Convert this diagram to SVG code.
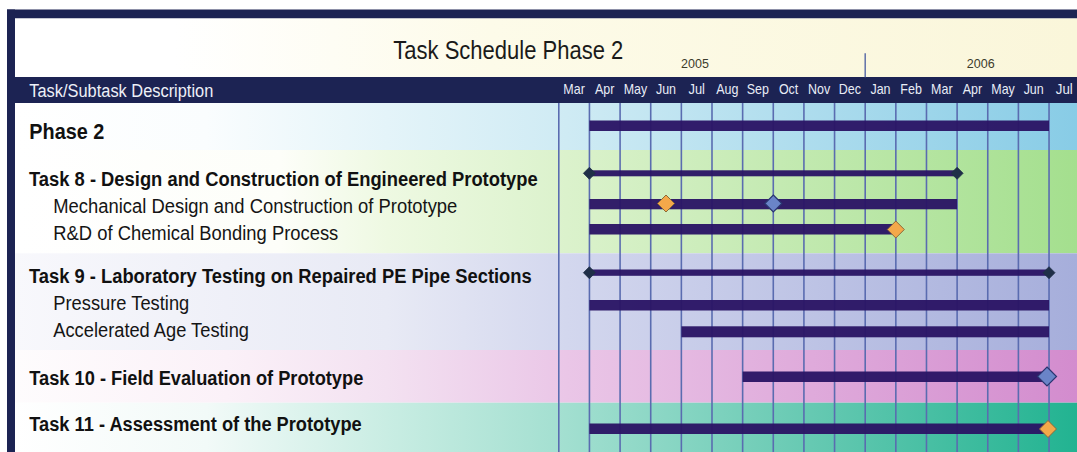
<svg xmlns="http://www.w3.org/2000/svg" width="1077" height="452" viewBox="0 0 1077 452">
<defs>
<linearGradient id="gTitle" gradientUnits="userSpaceOnUse" x1="15" y1="0" x2="1077" y2="0">
<stop offset="0" stop-color="#ffffff"/><stop offset="0.15" stop-color="#ffffff"/><stop offset="0.45" stop-color="#fdfbe9"/><stop offset="1" stop-color="#faf6da"/>
</linearGradient>
<linearGradient id="gP2" gradientUnits="userSpaceOnUse" x1="15" y1="0" x2="1077" y2="0">
<stop offset="0" stop-color="#ffffff"/><stop offset="0.18" stop-color="#fafdfe"/><stop offset="0.35" stop-color="#e4f4f9"/><stop offset="0.52" stop-color="#cfebf4"/><stop offset="1" stop-color="#88cce6"/>
</linearGradient>
<linearGradient id="gT8" gradientUnits="userSpaceOnUse" x1="15" y1="0" x2="1077" y2="0">
<stop offset="0" stop-color="#ffffff"/><stop offset="0.25" stop-color="#fdfef9"/><stop offset="0.35" stop-color="#eef9e2"/><stop offset="0.52" stop-color="#dbf2cc"/><stop offset="1" stop-color="#a4df8e"/>
</linearGradient>
<linearGradient id="gT9" gradientUnits="userSpaceOnUse" x1="15" y1="0" x2="1077" y2="0">
<stop offset="0" stop-color="#f8f8fc"/><stop offset="0.35" stop-color="#e8eaf5"/><stop offset="0.52" stop-color="#d3d7ee"/><stop offset="1" stop-color="#a6aedb"/>
</linearGradient>
<linearGradient id="gT10" gradientUnits="userSpaceOnUse" x1="15" y1="0" x2="1077" y2="0">
<stop offset="0" stop-color="#fefcfd"/><stop offset="0.2" stop-color="#fbf1f8"/><stop offset="0.35" stop-color="#f3e1f1"/><stop offset="0.52" stop-color="#eac6e7"/><stop offset="1" stop-color="#d38cce"/>
</linearGradient>
<linearGradient id="gT11" gradientUnits="userSpaceOnUse" x1="15" y1="0" x2="1077" y2="0">
<stop offset="0" stop-color="#ffffff"/><stop offset="0.18" stop-color="#f2faf8"/><stop offset="0.35" stop-color="#c9ede3"/><stop offset="0.52" stop-color="#a2dfd0"/><stop offset="0.75" stop-color="#66c9b2"/><stop offset="1" stop-color="#22b391"/>
</linearGradient>
</defs>
<style>
.frame{fill:#1c2353}
.title{font-family:"Liberation Sans",Arial,sans-serif;font-size:25px;fill:#1a1a1a}
.hdr{font-family:"Liberation Sans",Arial,sans-serif;font-size:18px;fill:#eef0f8}
.mon{font-family:"Liberation Sans",Arial,sans-serif;font-size:15px;fill:#e8ecf6;text-anchor:middle}
.year{font-family:"Liberation Sans",Arial,sans-serif;font-size:12.5px;fill:#3c3c2c;text-anchor:middle}
.grid line{stroke:#5a6cb0;stroke-width:1.6}
.task{font-family:"Liberation Sans",Arial,sans-serif;font-size:20px;font-weight:bold;fill:#111111}
.phase{font-family:"Liberation Sans",Arial,sans-serif;font-size:21.5px;font-weight:bold;fill:#111111}
.sub{font-family:"Liberation Sans",Arial,sans-serif;font-size:19.5px;fill:#151515}
.bar{fill:#2b1565;opacity:0.96}
.dk{fill:#1f2f48;stroke:#1f2f48;stroke-width:0.8}
.or{fill:#f4a84a;stroke:#8a6a3a;stroke-width:1}
.bl{fill:#6a84c8;stroke:#2a3570;stroke-width:1.2}
</style>
<rect x="0" y="0" width="1077" height="452" fill="#ffffff"/>
<rect class="frame" x="7" y="9.5" width="1070" height="9"/>
<rect class="frame" x="7" y="9.5" width="8" height="442.5"/>
<rect x="15" y="18.5" width="1062" height="58.5" fill="url(#gTitle)"/>
<rect class="frame" x="7" y="77" width="1070" height="26"/>
<text class="title" x="393.3" y="59.3" textLength="230" lengthAdjust="spacingAndGlyphs">Task Schedule Phase 2</text>
<text class="year" x="695" y="68.3">2005</text>
<text class="year" x="980.7" y="68.3">2006</text>
<line x1="865.2" y1="53.3" x2="865.2" y2="77.3" stroke="#6070a8" stroke-width="1.5"/>
<text class="hdr" x="29.3" y="97" textLength="184" lengthAdjust="spacingAndGlyphs">Task/Subtask Description</text>
<g id="months">
<text class="mon" x="574.1" y="93.5" textLength="21.5" lengthAdjust="spacingAndGlyphs">Mar</text>
<text class="mon" x="604.7" y="93.5" textLength="19.4" lengthAdjust="spacingAndGlyphs">Apr</text>
<text class="mon" x="635.4" y="93.5" textLength="23.5" lengthAdjust="spacingAndGlyphs">May</text>
<text class="mon" x="666.0" y="93.5" textLength="20.1" lengthAdjust="spacingAndGlyphs">Jun</text>
<text class="mon" x="696.7" y="93.5" textLength="16.5" lengthAdjust="spacingAndGlyphs">Jul</text>
<text class="mon" x="727.3" y="93.5" textLength="22.2" lengthAdjust="spacingAndGlyphs">Aug</text>
<text class="mon" x="757.9" y="93.5" textLength="22.2" lengthAdjust="spacingAndGlyphs">Sep</text>
<text class="mon" x="788.6" y="93.5" textLength="19.4" lengthAdjust="spacingAndGlyphs">Oct</text>
<text class="mon" x="819.2" y="93.5" textLength="22.2" lengthAdjust="spacingAndGlyphs">Nov</text>
<text class="mon" x="849.9" y="93.5" textLength="22.2" lengthAdjust="spacingAndGlyphs">Dec</text>
<text class="mon" x="880.5" y="93.5" textLength="20.1" lengthAdjust="spacingAndGlyphs">Jan</text>
<text class="mon" x="911.1" y="93.5" textLength="21.5" lengthAdjust="spacingAndGlyphs">Feb</text>
<text class="mon" x="941.8" y="93.5" textLength="21.5" lengthAdjust="spacingAndGlyphs">Mar</text>
<text class="mon" x="972.4" y="93.5" textLength="19.4" lengthAdjust="spacingAndGlyphs">Apr</text>
<text class="mon" x="1003.1" y="93.5" textLength="23.5" lengthAdjust="spacingAndGlyphs">May</text>
<text class="mon" x="1033.7" y="93.5" textLength="20.1" lengthAdjust="spacingAndGlyphs">Jun</text>
<text class="mon" x="1064.3" y="93.5" textLength="17" lengthAdjust="spacingAndGlyphs">Jul</text>
</g>
<g id="backgrounds">
<rect x="15" y="103" width="1062" height="47" fill="url(#gP2)"/>
<rect x="15" y="150" width="1062" height="103.3" fill="url(#gT8)"/>
<rect x="15" y="253.3" width="1062" height="96.7" fill="url(#gT9)"/>
<rect x="15" y="350" width="1062" height="52.7" fill="url(#gT10)"/>
<rect x="15" y="402.7" width="1062" height="49.3" fill="url(#gT11)"/>
</g>
<g id="grid" class="grid">
<line x1="558.8" y1="103" x2="558.8" y2="452"/>
<line x1="589.44" y1="103" x2="589.44" y2="452"/>
<line x1="620.08" y1="103" x2="620.08" y2="452"/>
<line x1="650.72" y1="103" x2="650.72" y2="452"/>
<line x1="681.36" y1="103" x2="681.36" y2="452"/>
<line x1="712" y1="103" x2="712" y2="452"/>
<line x1="742.64" y1="103" x2="742.64" y2="452"/>
<line x1="773.28" y1="103" x2="773.28" y2="452"/>
<line x1="803.92" y1="103" x2="803.92" y2="452"/>
<line x1="834.56" y1="103" x2="834.56" y2="452"/>
<line x1="865.2" y1="103" x2="865.2" y2="452"/>
<line x1="895.84" y1="103" x2="895.84" y2="452"/>
<line x1="926.48" y1="103" x2="926.48" y2="452"/>
<line x1="957.12" y1="103" x2="957.12" y2="452"/>
<line x1="987.76" y1="103" x2="987.76" y2="452"/>
<line x1="1018.4" y1="103" x2="1018.4" y2="452"/>
<line x1="1049.04" y1="103" x2="1049.04" y2="452"/>
</g>
<g id="connectors"></g>
<g id="phase2">
<text class="phase" x="29.3" y="139.3" textLength="75" lengthAdjust="spacingAndGlyphs">Phase 2</text>
<rect class="bar" x="589.4" y="120.5" width="459.6" height="10.5"/>
</g>
<g id="task8">
<text class="task" x="29" y="185.7" textLength="508.7" lengthAdjust="spacingAndGlyphs">Task 8 - Design and Construction of Engineered Prototype</text>
<rect class="bar" x="589.4" y="170.3" width="367.7" height="6"/>
<polygon class="dk" points="589.4,167.3 595.4,173.3 589.4,179.3 583.4,173.3"/>
<polygon class="dk" points="957.1,167.3 963.1,173.3 957.1,179.3 951.1,173.3"/>
</g>
<g id="task8-mech">
<text class="sub" x="53.3" y="213" textLength="404" lengthAdjust="spacingAndGlyphs">Mechanical Design and Construction of Prototype</text>
<rect class="bar" x="589.4" y="199" width="367.7" height="10.3"/>
<polygon class="or" points="666,195 674.5,203.5 666,212 657.5,203.5"/>
<polygon class="bl" points="773.3,195 781.8,203.5 773.3,212 764.8,203.5"/>
</g>
<g id="task8-rd">
<text class="sub" x="53.3" y="240" textLength="285" lengthAdjust="spacingAndGlyphs">R&amp;D of Chemical Bonding Process</text>
<rect class="bar" x="589.4" y="224" width="306.4" height="10.5"/>
<polygon class="or" points="895.8,221 904.3,229.5 895.8,238 887.3,229.5"/>
</g>
<g id="task9">
<text class="task" x="29" y="283" textLength="502.7" lengthAdjust="spacingAndGlyphs">Task 9 - Laboratory Testing on Repaired PE Pipe Sections</text>
<rect class="bar" x="589.4" y="269.5" width="459.6" height="6.3"/>
<polygon class="dk" points="589.4,266.7 595.4,272.7 589.4,278.7 583.4,272.7"/>
<polygon class="dk" points="1049,266.7 1055,272.7 1049,278.7 1043,272.7"/>
</g>
<g id="task9-pressure">
<text class="sub" x="53.3" y="310" textLength="136" lengthAdjust="spacingAndGlyphs">Pressure Testing</text>
<rect class="bar" x="589.4" y="300" width="459.6" height="10.5"/>
</g>
<g id="task9-age">
<text class="sub" x="53.3" y="336.7" textLength="195.7" lengthAdjust="spacingAndGlyphs">Accelerated Age Testing</text>
<rect class="bar" x="681.4" y="326.3" width="367.6" height="11"/>
</g>
<g id="task10">
<text class="task" x="29.3" y="385" textLength="334" lengthAdjust="spacingAndGlyphs">Task 10 - Field Evaluation of Prototype</text>
<rect class="bar" x="742.6" y="371.5" width="304.4" height="10.5"/>
<polygon class="bl" points="1047,367 1056.5,376.5 1047,386 1037.5,376.5"/>
</g>
<g id="task11">
<text class="task" x="29.3" y="430.7" textLength="332.4" lengthAdjust="spacingAndGlyphs">Task 11 - Assessment of the Prototype</text>
<rect class="bar" x="589.4" y="423.5" width="458.6" height="10.5"/>
<polygon class="or" points="1048,420.5 1056.5,429 1048,437.5 1039.5,429"/>
</g>
</svg>
